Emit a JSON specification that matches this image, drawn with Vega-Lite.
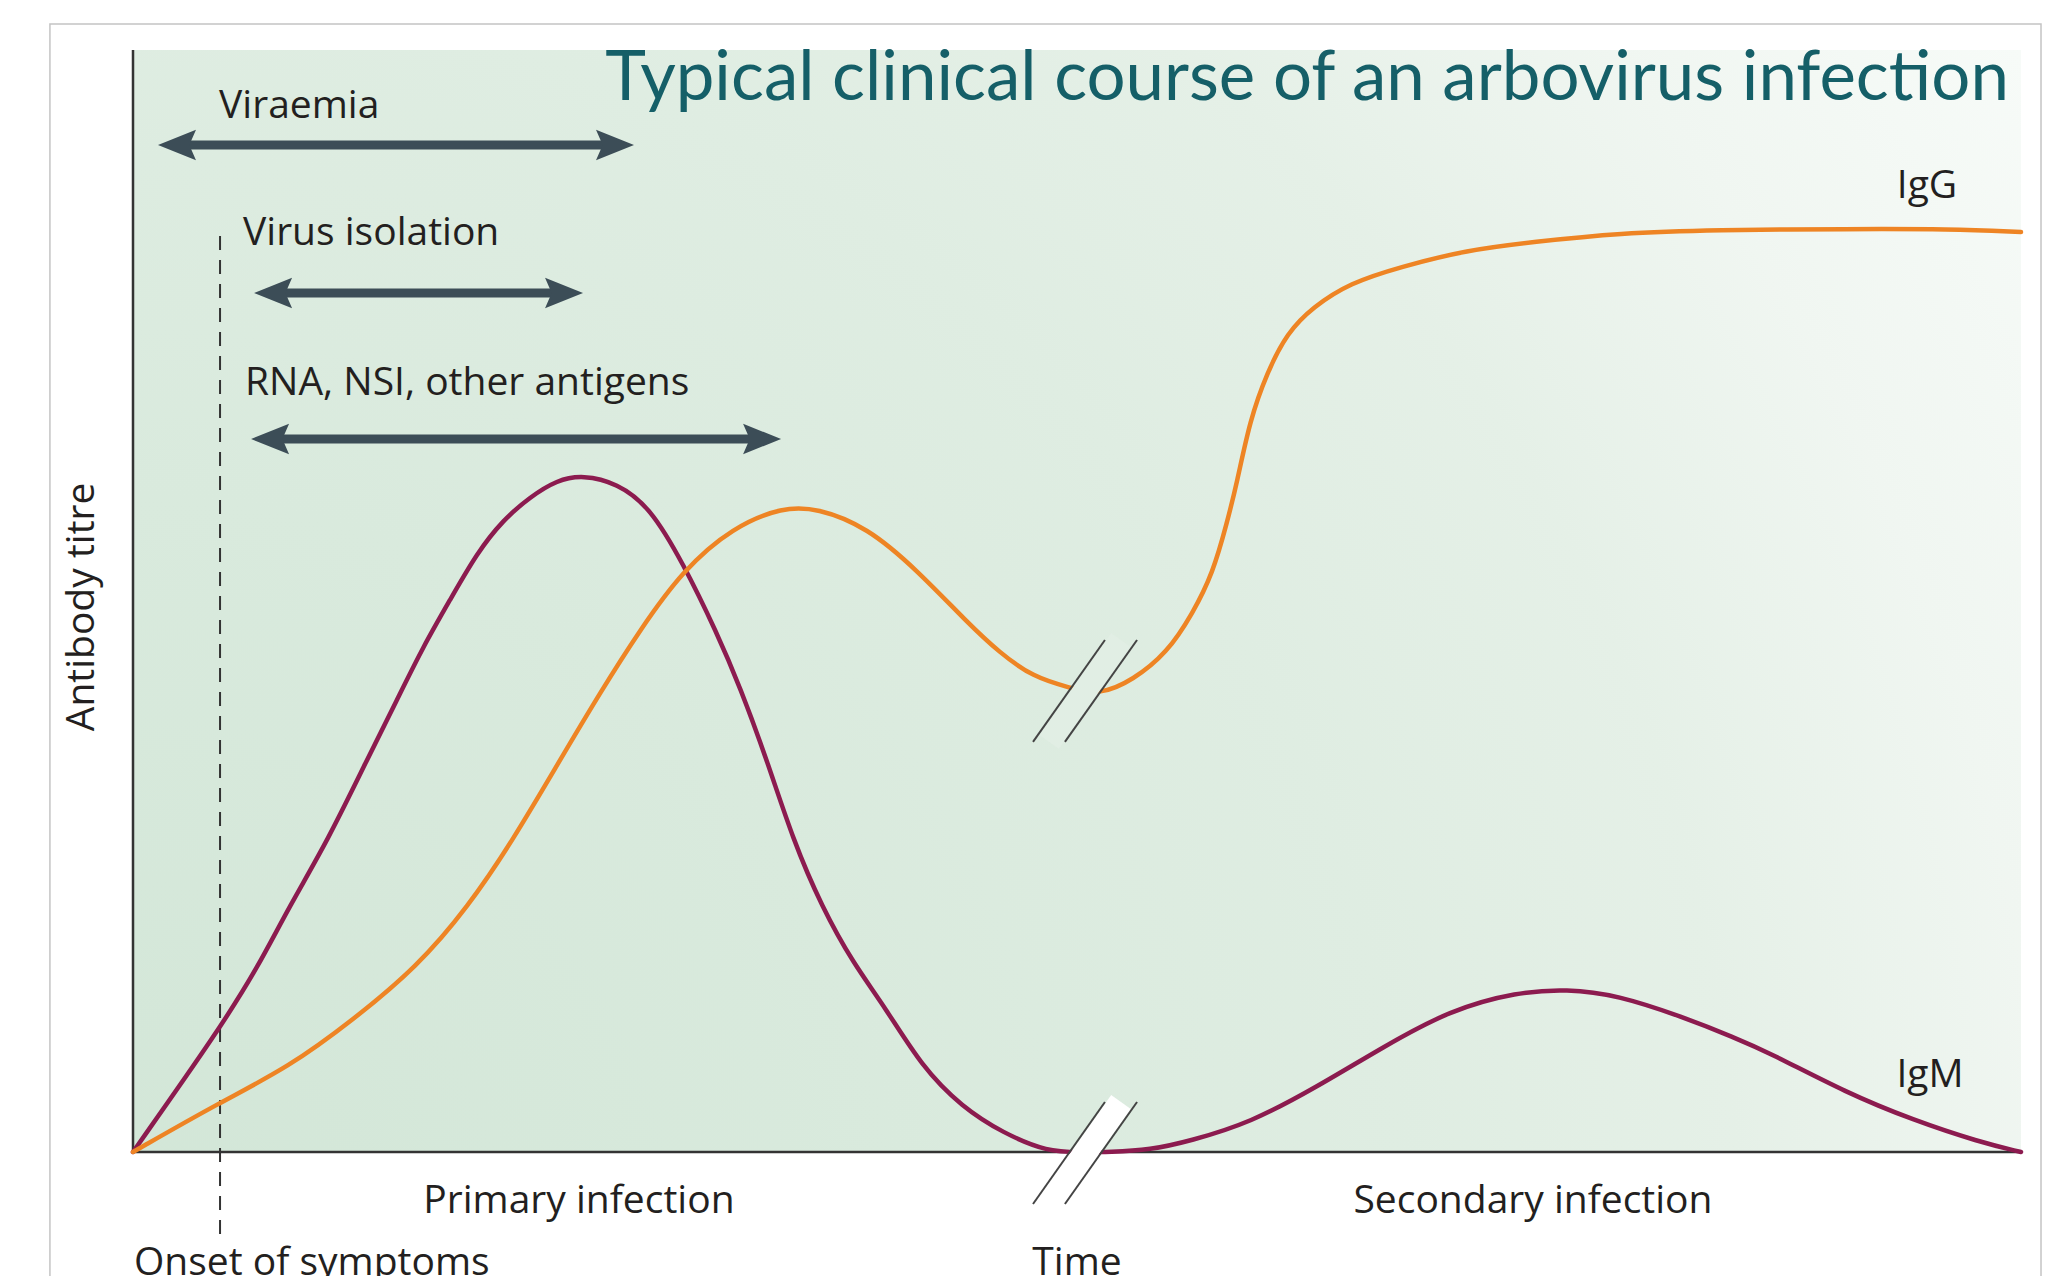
{
  "$schema": "https://vega.github.io/schema/vega-lite/v6.json",
  "width": 1888,
  "height": 1102,
  "autosize": {"type": "none"},
  "padding": {"left": 133, "top": 50, "right": 48, "bottom": 124},
  "background": "white",
  "config": {"view": {"stroke": null}},
  "datasets": {
    "panel": [{"x0": 0, "x1": 100, "y0": 0, "y1": 100}],
    "frame": [{"x0": -4.4, "x1": 101.06, "y0": -13.4, "y1": 102.36}],
    "onset": [{"x": 4.61, "y0": -7.44, "y1": 83.21}],
    "axes": [
      {"x0": 0, "y0": 0, "x1": 0, "y1": 100},
      {"x0": 0, "y0": 0, "x1": 100, "y1": 0}
    ],
    "curves": [
      {"series": "IgM", "t": 0, "titre": 0},
      {"series": "IgM", "t": 4.55, "titre": 11.07},
      {"series": "IgM", "t": 6.62, "titre": 16.79},
      {"series": "IgM", "t": 8.26, "titre": 22.23},
      {"series": "IgM", "t": 10.33, "titre": 28.31},
      {"series": "IgM", "t": 12.39, "titre": 35.57},
      {"series": "IgM", "t": 13.98, "titre": 41.02},
      {"series": "IgM", "t": 15.36, "titre": 45.83},
      {"series": "IgM", "t": 16.79, "titre": 50.09},
      {"series": "IgM", "t": 18.22, "titre": 54.36},
      {"series": "IgM", "t": 19.6, "titre": 57.35},
      {"series": "IgM", "t": 21.03, "titre": 59.44},
      {"series": "IgM", "t": 22.46, "titre": 60.98},
      {"series": "IgM", "t": 23.83, "titre": 61.43},
      {"series": "IgM", "t": 25.64, "titre": 60.71},
      {"series": "IgM", "t": 27.38, "titre": 58.53},
      {"series": "IgM", "t": 29.13, "titre": 53.45},
      {"series": "IgM", "t": 30.93, "titre": 47.1},
      {"series": "IgM", "t": 32.15, "titre": 42.2},
      {"series": "IgM", "t": 33.58, "titre": 35.57},
      {"series": "IgM", "t": 34.96, "titre": 28.31},
      {"series": "IgM", "t": 36.49, "titre": 22.23},
      {"series": "IgM", "t": 38.14, "titre": 17.15},
      {"series": "IgM", "t": 39.83, "titre": 13.16},
      {"series": "IgM", "t": 41.79, "titre": 7.71},
      {"series": "IgM", "t": 43.91, "titre": 4.08},
      {"series": "IgM", "t": 46.08, "titre": 1.72},
      {"series": "IgM", "t": 48.46, "titre": 0},
      {"series": "IgM", "t": 50.16, "titre": 0},
      {"series": "IgM", "t": 51.75, "titre": 0},
      {"series": "IgM", "t": 53.87, "titre": 0.18},
      {"series": "IgM", "t": 55.99, "titre": 1.0},
      {"series": "IgM", "t": 59.16, "titre": 2.63},
      {"series": "IgM", "t": 62.71, "titre": 5.9},
      {"series": "IgM", "t": 66.21, "titre": 9.53},
      {"series": "IgM", "t": 69.76, "titre": 12.89},
      {"series": "IgM", "t": 73.31, "titre": 14.52},
      {"series": "IgM", "t": 75.95, "titre": 14.79},
      {"series": "IgM", "t": 78.6, "titre": 14.25},
      {"series": "IgM", "t": 82.1, "titre": 12.25},
      {"series": "IgM", "t": 84.75, "titre": 10.44},
      {"series": "IgM", "t": 86.71, "titre": 8.98},
      {"series": "IgM", "t": 90.78, "titre": 5.35},
      {"series": "IgM", "t": 94.28, "titre": 2.9},
      {"series": "IgM", "t": 97.78, "titre": 0.91},
      {"series": "IgM", "t": 100, "titre": 0},
      {"series": "IgG", "t": 0, "titre": 0},
      {"series": "IgG", "t": 4.55, "titre": 4.45},
      {"series": "IgG", "t": 8.26, "titre": 7.71},
      {"series": "IgG", "t": 11.65, "titre": 11.98},
      {"series": "IgG", "t": 15.04, "titre": 16.79},
      {"series": "IgG", "t": 17.74, "titre": 22.23},
      {"series": "IgG", "t": 20.13, "titre": 28.31},
      {"series": "IgG", "t": 22.62, "titre": 35.57},
      {"series": "IgG", "t": 24.73, "titre": 41.65},
      {"series": "IgG", "t": 26.85, "titre": 47.37},
      {"series": "IgG", "t": 29.13, "titre": 52.81},
      {"series": "IgG", "t": 31.78, "titre": 56.72},
      {"series": "IgG", "t": 34.43, "titre": 58.53},
      {"series": "IgG", "t": 36.23, "titre": 58.44},
      {"series": "IgG", "t": 38.88, "titre": 56.72},
      {"series": "IgG", "t": 41.53, "titre": 52.81},
      {"series": "IgG", "t": 44.17, "titre": 48.09},
      {"series": "IgG", "t": 45.92, "titre": 45.28},
      {"series": "IgG", "t": 47.67, "titre": 43.1},
      {"series": "IgG", "t": 49.63, "titre": 42.11},
      {"series": "IgG", "t": 51.22, "titre": 41.47},
      {"series": "IgG", "t": 52.97, "titre": 42.83},
      {"series": "IgG", "t": 54.77, "titre": 45.28},
      {"series": "IgG", "t": 56.14, "titre": 48.91},
      {"series": "IgG", "t": 57.2, "titre": 52.54},
      {"series": "IgG", "t": 57.94, "titre": 57.08},
      {"series": "IgG", "t": 58.47, "titre": 60.71},
      {"series": "IgG", "t": 59.16, "titre": 66.42},
      {"series": "IgG", "t": 60.06, "titre": 70.69},
      {"series": "IgG", "t": 61.12, "titre": 74.32},
      {"series": "IgG", "t": 62.5, "titre": 76.68},
      {"series": "IgG", "t": 64.46, "titre": 78.86},
      {"series": "IgG", "t": 67.11, "titre": 80.31},
      {"series": "IgG", "t": 70.66, "titre": 81.85},
      {"series": "IgG", "t": 74.15, "titre": 82.58},
      {"series": "IgG", "t": 78.76, "titre": 83.39},
      {"series": "IgG", "t": 83.79, "titre": 83.67},
      {"series": "IgG", "t": 90.94, "titre": 83.76},
      {"series": "IgG", "t": 96.24, "titre": 83.76},
      {"series": "IgG", "t": 100, "titre": 83.48}
    ],
    "breaks": [
      {"where": "upper", "x0": 48.52, "y0": 37.21, "x1": 52.33, "y1": 46.46},
      {"where": "lower", "x0": 48.52, "y0": -4.72, "x1": 52.33, "y1": 4.54}
    ],
    "slashes": [
      {"x0": 47.67, "y0": 37.21, "x1": 51.48, "y1": 46.46},
      {"x0": 49.36, "y0": 37.21, "x1": 53.18, "y1": 46.46},
      {"x0": 47.67, "y0": -4.72, "x1": 51.48, "y1": 4.54},
      {"x0": 49.36, "y0": -4.72, "x1": 53.18, "y1": 4.54}
    ],
    "arrows": [
      {"name": "Viraemia", "xl": 2.33, "xr": 25.53, "y": 91.38},
      {"name": "Virus isolation", "xl": 7.42, "xr": 22.83, "y": 77.95},
      {"name": "RNA, NSI, other antigens", "xl": 7.26, "xr": 33.32, "y": 64.7}
    ],
    "texts": [
      {"group": "annot", "text": "Viraemia", "x": 4.56, "y": 93.83},
      {"group": "annot", "text": "Virus isolation", "x": 5.83, "y": 82.3},
      {"group": "annot", "text": "RNA, NSI, other antigens", "x": 5.93, "y": 68.69},
      {"group": "annot", "text": "Onset of symptoms", "x": 0.05, "y": -11.16},
      {"group": "center", "text": "Primary infection", "x": 23.62, "y": -5.54},
      {"group": "center", "text": "Secondary infection", "x": 74.15, "y": -5.54},
      {"group": "center", "text": "Time", "x": 50.0, "y": -11.16},
      {"group": "center", "text": "IgG", "x": 95.02, "y": 86.57},
      {"group": "center", "text": "IgM", "x": 95.18, "y": 5.9},
      {"group": "title", "text": "Typical clinical course of an arbovirus infection", "x": 99.36, "y": 95.46},
      {"group": "ytitle", "text": "Antibody titre", "x": -2.7, "y": 49.46}
    ]
  },
  "layer": [
    {
      "data": {"name": "panel"},
      "mark": {
        "type": "rect",
        "fill": {
          "gradient": "radial",
          "x1": 0, "y1": 0.85, "r1": 0,
          "x2": 0, "y2": 0.85, "r2": 1.35,
          "stops": [
            {"offset": 0, "color": "#d2e6d7"},
            {"offset": 0.3, "color": "#d9eadd"},
            {"offset": 0.5, "color": "#dfede2"},
            {"offset": 0.63, "color": "#e5f0e7"},
            {"offset": 0.75, "color": "#f0f6f1"},
            {"offset": 0.88, "color": "#f7fbf8"},
            {"offset": 1, "color": "#fcfdfc"}
          ]
        }
      },
      "encoding": {
        "x": {"field": "x0", "type": "quantitative", "scale": {"domain": [0, 100], "nice": false, "zero": false}, "axis": null},
        "x2": {"field": "x1"},
        "y": {"field": "y0", "type": "quantitative", "scale": {"domain": [0, 100], "nice": false, "zero": false}, "axis": null},
        "y2": {"field": "y1"}
      }
    },
    {
      "data": {"name": "frame"},
      "mark": {"type": "rect", "fillOpacity": 0, "stroke": "#c4c4c4", "strokeWidth": 1.5},
      "encoding": {
        "x": {"field": "x0", "type": "quantitative", "scale": {"domain": [0, 100], "nice": false, "zero": false}, "axis": null},
        "x2": {"field": "x1"},
        "y": {"field": "y0", "type": "quantitative", "scale": {"domain": [0, 100], "nice": false, "zero": false}, "axis": null},
        "y2": {"field": "y1"}
      }
    },
    {
      "data": {"name": "onset"},
      "mark": {"type": "rule", "color": "#333333", "strokeWidth": 2, "strokeDash": [14, 10]},
      "encoding": {
        "x": {"field": "x", "type": "quantitative", "scale": {"domain": [0, 100], "nice": false, "zero": false}, "axis": null},
        "y": {"field": "y0", "type": "quantitative", "scale": {"domain": [0, 100], "nice": false, "zero": false}, "axis": null},
        "y2": {"field": "y1"}
      }
    },
    {
      "data": {"name": "axes"},
      "mark": {"type": "rule", "color": "#333333", "strokeWidth": 2.5},
      "encoding": {
        "x": {"field": "x0", "type": "quantitative", "scale": {"domain": [0, 100], "nice": false, "zero": false}, "axis": null},
        "x2": {"field": "x1"},
        "y": {"field": "y0", "type": "quantitative", "scale": {"domain": [0, 100], "nice": false, "zero": false}, "axis": null},
        "y2": {"field": "y1"}
      }
    },
    {
      "data": {"name": "curves"},
      "mark": {"type": "line", "interpolate": "basis", "strokeWidth": 4.5, "strokeCap": "round"},
      "encoding": {
        "x": {"field": "t", "type": "quantitative", "scale": {"domain": [0, 100], "nice": false, "zero": false}, "axis": null},
        "y": {"field": "titre", "type": "quantitative", "scale": {"domain": [0, 100], "nice": false, "zero": false}, "axis": null},
        "color": {"field": "series", "type": "nominal", "scale": {"domain": ["IgM", "IgG"], "range": ["#8c1b4f", "#ee8424"]}, "legend": null}
      }
    },
    {
      "data": {"name": "breaks"},
      "transform": [{"filter": "datum.where === 'upper'"}],
      "mark": {"type": "rule", "color": "#e1eee4", "strokeWidth": 24, "strokeCap": "butt"},
      "encoding": {
        "x": {"field": "x0", "type": "quantitative", "scale": {"domain": [0, 100], "nice": false, "zero": false}, "axis": null},
        "x2": {"field": "x1"},
        "y": {"field": "y0", "type": "quantitative", "scale": {"domain": [0, 100], "nice": false, "zero": false}, "axis": null},
        "y2": {"field": "y1"}
      }
    },
    {
      "data": {"name": "breaks"},
      "transform": [{"filter": "datum.where === 'lower'"}],
      "mark": {"type": "rule", "color": "#ffffff", "strokeWidth": 24, "strokeCap": "butt"},
      "encoding": {
        "x": {"field": "x0", "type": "quantitative", "scale": {"domain": [0, 100], "nice": false, "zero": false}, "axis": null},
        "x2": {"field": "x1"},
        "y": {"field": "y0", "type": "quantitative", "scale": {"domain": [0, 100], "nice": false, "zero": false}, "axis": null},
        "y2": {"field": "y1"}
      }
    },
    {
      "data": {"name": "slashes"},
      "mark": {"type": "rule", "color": "#444444", "strokeWidth": 2},
      "encoding": {
        "x": {"field": "x0", "type": "quantitative", "scale": {"domain": [0, 100], "nice": false, "zero": false}, "axis": null},
        "x2": {"field": "x1"},
        "y": {"field": "y0", "type": "quantitative", "scale": {"domain": [0, 100], "nice": false, "zero": false}, "axis": null},
        "y2": {"field": "y1"}
      }
    },
    {
      "data": {"name": "arrows"},
      "mark": {"type": "rule", "color": "#3c4d57", "strokeWidth": 9},
      "encoding": {
        "x": {"field": "xl", "type": "quantitative", "scale": {"domain": [0, 100], "nice": false, "zero": false}, "axis": null},
        "x2": {"field": "xr"},
        "y": {"field": "y", "type": "quantitative", "scale": {"domain": [0, 100], "nice": false, "zero": false}, "axis": null}
      }
    },
    {
      "data": {"name": "arrows"},
      "mark": {"type": "point", "shape": "M -1 0 L 1 -0.8 L 0.65 0 L 1 0.8 Z", "size": 1444, "filled": true, "opacity": 1, "color": "#3c4d57", "strokeWidth": 0},
      "encoding": {
        "x": {"field": "xl", "type": "quantitative", "scale": {"domain": [0, 100], "nice": false, "zero": false}, "axis": null},
        "y": {"field": "y", "type": "quantitative", "scale": {"domain": [0, 100], "nice": false, "zero": false}, "axis": null}
      }
    },
    {
      "data": {"name": "arrows"},
      "mark": {"type": "point", "shape": "M 1 0 L -1 -0.8 L -0.65 0 L -1 0.8 Z", "size": 1444, "filled": true, "opacity": 1, "color": "#3c4d57", "strokeWidth": 0},
      "encoding": {
        "x": {"field": "xr", "type": "quantitative", "scale": {"domain": [0, 100], "nice": false, "zero": false}, "axis": null},
        "y": {"field": "y", "type": "quantitative", "scale": {"domain": [0, 100], "nice": false, "zero": false}, "axis": null}
      }
    },
    {
      "data": {"name": "texts"},
      "transform": [{"filter": "datum.group === 'annot'"}],
      "mark": {"type": "text", "align": "left", "baseline": "alphabetic", "font": "Open Sans", "fontSize": 39, "color": "#231f20"},
      "encoding": {
        "x": {"field": "x", "type": "quantitative", "scale": {"domain": [0, 100], "nice": false, "zero": false}, "axis": null},
        "y": {"field": "y", "type": "quantitative", "scale": {"domain": [0, 100], "nice": false, "zero": false}, "axis": null},
        "text": {"field": "text"}
      }
    },
    {
      "data": {"name": "texts"},
      "transform": [{"filter": "datum.group === 'center'"}],
      "mark": {"type": "text", "align": "center", "baseline": "alphabetic", "font": "Open Sans", "fontSize": 39, "color": "#231f20"},
      "encoding": {
        "x": {"field": "x", "type": "quantitative", "scale": {"domain": [0, 100], "nice": false, "zero": false}, "axis": null},
        "y": {"field": "y", "type": "quantitative", "scale": {"domain": [0, 100], "nice": false, "zero": false}, "axis": null},
        "text": {"field": "text"}
      }
    },
    {
      "data": {"name": "texts"},
      "transform": [{"filter": "datum.group === 'ytitle'"}],
      "mark": {"type": "text", "align": "center", "baseline": "middle", "angle": 270, "font": "Open Sans", "fontSize": 39, "color": "#231f20"},
      "encoding": {
        "x": {"field": "x", "type": "quantitative", "scale": {"domain": [0, 100], "nice": false, "zero": false}, "axis": null},
        "y": {"field": "y", "type": "quantitative", "scale": {"domain": [0, 100], "nice": false, "zero": false}, "axis": null},
        "text": {"field": "text"}
      }
    },
    {
      "data": {"name": "texts"},
      "transform": [{"filter": "datum.group === 'title'"}],
      "mark": {"type": "text", "align": "right", "baseline": "alphabetic", "font": "Lato", "fontSize": 69, "color": "#155f68"},
      "encoding": {
        "x": {"field": "x", "type": "quantitative", "scale": {"domain": [0, 100], "nice": false, "zero": false}, "axis": null},
        "y": {"field": "y", "type": "quantitative", "scale": {"domain": [0, 100], "nice": false, "zero": false}, "axis": null},
        "text": {"field": "text"}
      }
    }
  ]
}
